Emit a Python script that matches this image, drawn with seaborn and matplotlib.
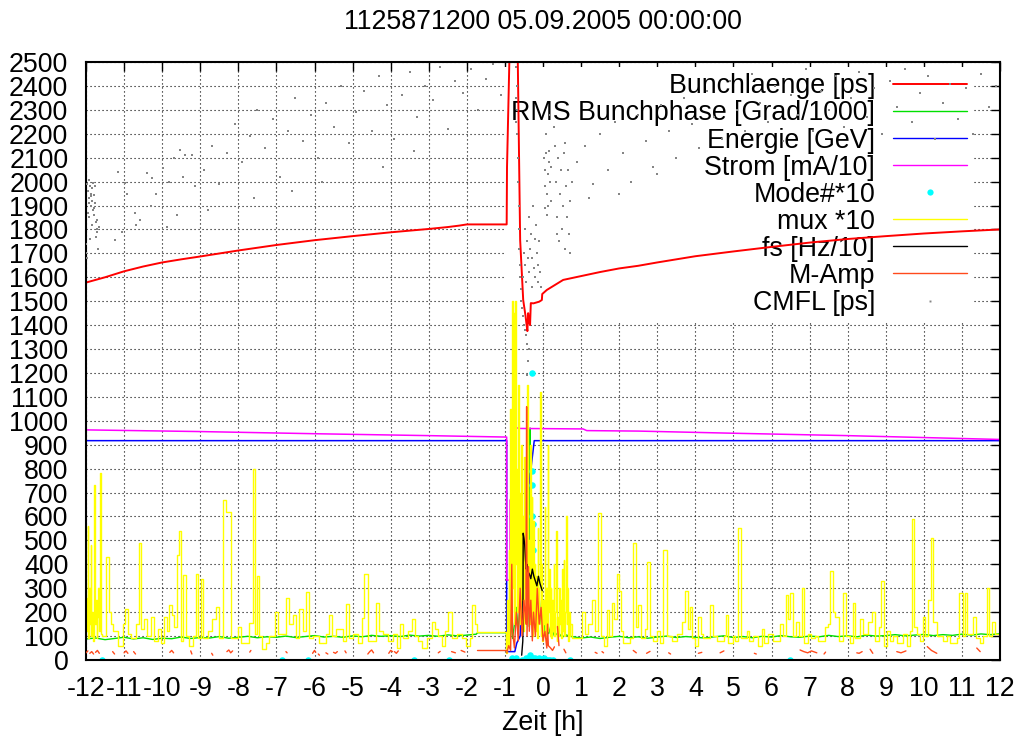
import numpy as np
import pandas as pd
import matplotlib
matplotlib.use("Agg")
import matplotlib.pyplot as plt
import seaborn as sns
from matplotlib.lines import Line2D

# ---------------- data (hours relative to 05.09.2005 00:00) ----------------
TITLE = "1125871200 05.09.2005 00:00:00"
XLABEL = "Zeit [h]"
LABELS = ["Bunchlaenge [ps]", "RMS Bunchphase [Grad/1000]", "Energie [GeV]",
          "Strom [mA/10]", "Mode#*10", "mux *10", "fs [Hz/10]", "M-Amp", "CMFL [ps]"]
x_ticks = list(range(-12, 13))
y_ticks = list(range(0, 2501, 100))

# Bunchlaenge [ps]
bl_t = [-12, -11.5, -11, -10.5, -10, -9.5, -9, -8, -7, -6, -5, -4, -3, -2.5, -2.2, -2.0, -0.954,
        -0.945, -0.87, -0.67, -0.60, -0.52, -0.46, -0.43, -0.41, -0.39, -0.37, -0.34, -0.32,
        -0.25, -0.10, -0.03, -0.02, 0.10, 0.53, 1.0, 1.5, 2.0, 2.5, 3, 4, 5, 6, 7, 8, 9, 10, 11, 12]
bl_v = [1578, 1600, 1625, 1645, 1662, 1675, 1687, 1712, 1735, 1755, 1772, 1788, 1802, 1810, 1816, 1821, 1821,
        2060, 2600, 2600, 1756, 1505, 1440, 1400, 1375, 1450, 1420, 1400, 1492,
        1491, 1498, 1505, 1530, 1547, 1589, 1605, 1622, 1637, 1648, 1662, 1688, 1708, 1727, 1745, 1760, 1772, 1783, 1792, 1800]

# RMS Bunchphase [Grad/1000]
rms_t = [-12, -11.75, -11.5, -11.25, -11, -10.75, -10.5, -10.25, -10, -9.75, -9.5, -9.25, -9, -8.75, -8.5,
         -8.25, -8, -7.75, -7.5, -7.25, -7, -6.75, -6.5, -6.25, -6, -5.75, -5.5, -5.25, -5, -4.75, -4.5,
         -4.25, -4, -3.75, -3.5, -3.25, -3, -2.75, -2.5, -2.25, -2, -1.75, -1.72, -0.96,
         -0.95, -0.9, -0.85, -0.8, -0.75, -0.7, -0.65, -0.6, -0.55, -0.5, -0.45, -0.40, -0.36, -0.34, -0.33,
         -0.3, -0.25, -0.2, -0.15, -0.1, -0.05, 0, 0.05, 0.1, 0.15, 0.2, 0.3, 0.4, 0.5, 0.6, 0.75,
         1, 1.25, 1.5, 1.75, 2, 2.25, 2.5, 2.75, 3, 3.25, 3.5, 3.75, 4, 4.25, 4.5, 4.75, 5, 5.25, 5.5,
         5.75, 6, 6.25, 6.5, 6.75, 7, 7.25, 7.5, 7.75, 8, 8.25, 8.5, 8.75, 9, 9.25, 9.5, 9.75, 10, 10.25,
         10.5, 10.75, 11, 11.25, 11.5, 11.75, 12]
rms_v = [88, 92, 85, 90, 95, 88, 93, 86, 91, 89, 96, 90, 94, 92, 98,
         91, 95, 99, 93, 97, 95, 100, 94, 98, 102, 96, 99, 95, 101, 97, 103,
         99, 102, 98, 104, 100, 103, 99, 105, 101, 104, 108, 114, 114,
         60, 120, 180, 90, 150, 220, 110, 250, 130, 200, 160, 300, 140, 970, 150,
         280, 180, 220, 130, 260, 150, 200, 120, 170, 110, 140, 100, 115, 95, 105, 98,
         92, 96, 90, 95, 99, 93, 97, 91, 96, 100, 94, 98, 95, 92, 97, 101, 94, 98, 93,
         99, 96, 102, 97, 95, 100, 97, 103, 98, 101, 97, 104, 100, 102, 106, 101, 104, 107, 102,
         106, 103, 108, 104, 109, 106, 110]

# Energie [GeV]
en_t = [-12, -0.954, -0.954, -0.74, -0.69, -0.60, -0.43, -0.385, -0.30, -0.23, 12]
en_v = [917, 917, 35, 35, 70, 100, 571, 711, 822, 917, 917]

# Strom [mA/10]
st_t = [-12, -9, -6, -3, -0.954, -0.954, -0.866, -0.866, -0.779, -0.779, -0.63, 1.05, 1.15, 2.5, 5, 8, 10, 12]
st_v = [962, 955, 946, 938, 932, 334, 334, 669, 669, 975, 968, 966, 959, 957, 948, 938, 930, 922]

# Mode#*10
mode_t = [-11.58, -6.85, -6.17, -3.39, -2.47, -0.82, -0.75, -0.70, -0.55, -0.45, -0.40, -0.36, -0.33,
          -0.30, -0.27, -0.24, -0.20, -0.15, -0.10, -0.05, 0.02, 0.08, 0.12, 0.19, 0.27, 0.71, 6.49,
          -0.30, -0.29, -0.28, -0.30, -0.27, -0.26]
mode_v = [0, 0, 0, 0, 0, 10, 0, 10, 0, 10, 0, 10, 20,
          0, 10, 0, 10, 0, 10, 0, 10, 0, 0, 0, 0, 0, 0,
          1200, 790, 730, 600, 570, 460]

# mux *10 (step signal)
mux_t = [-12.00, -11.98, -11.96, -11.94, -11.92, -11.90, -11.88, -11.86, -11.84, -11.82, -11.80, -11.78,
         -11.76, -11.74, -11.72, -11.70, -11.68, -11.66, -11.64, -11.62, -11.60,
         -11.58, -11.47, -11.40, -11.34, -11.30, -11.17, -11.04, -10.97, -10.91, -10.82, -10.69, -10.62,
         -10.56, -10.47, -10.40, -10.29, -10.21, -10.12, -10.03, -9.94, -9.87, -9.81, -9.74, -9.68, -9.62,
         -9.57, -9.51, -9.44, -9.37, -9.29, -9.20, -9.11, -9.05, -8.98, -8.92, -8.80, -8.69, -8.59, -8.52,
         -8.39, -8.32, -8.26, -8.19, -8.02, -7.93, -7.71, -7.62, -7.55, -7.52, -7.47, -7.38, -7.27, -7.19,
         -7.05, -6.97, -6.84, -6.75, -6.66, -6.57, -6.49, -6.40, -6.31, -6.22, -6.15, -6.05, -5.87, -5.70,
         -5.61, -5.54, -5.44, -5.26, -5.17, -5.10, -5.00, -4.87, -4.75, -4.69, -4.60, -4.39, -4.30, -4.21,
         -4.08, -3.93, -3.84, -3.75, -3.67, -3.54, -3.45, -3.36, -3.27, -3.19, -3.05, -2.92, -2.84, -2.75,
         -2.66, -2.57, -2.49, -2.40, -2.27, -2.14, -2.02, -1.92, -1.87, -1.79, -1.72, -0.97,
         -0.96, -0.94, -0.92, -0.90, -0.88, -0.86, -0.84, -0.82, -0.80, -0.78, -0.76, -0.74, -0.72, -0.70,
         -0.68, -0.66, -0.64, -0.62, -0.60, -0.58, -0.56, -0.54, -0.52, -0.50, -0.48, -0.46, -0.44, -0.42,
         -0.40, -0.38, -0.36, -0.34, -0.32, -0.30, -0.28, -0.26, -0.24, -0.22, -0.20, -0.18, -0.16, -0.14,
         -0.12, -0.10, -0.08, -0.06, -0.04, -0.02, 0.00, 0.02, 0.04, 0.06, 0.08, 0.10, 0.12, 0.14, 0.16,
         0.18, 0.20, 0.22, 0.24, 0.26, 0.28, 0.30, 0.32, 0.34, 0.36, 0.38, 0.40, 0.42, 0.44, 0.46, 0.48,
         0.50, 0.52, 0.54, 0.56, 0.58, 0.60, 0.62, 0.64, 0.66, 0.68, 0.70, 0.72,
         0.75, 1.02, 1.10, 1.19, 1.28, 1.37, 1.45, 1.52, 1.59, 1.67, 1.74, 1.80, 1.87, 1.95, 2.00, 2.04,
         2.11, 2.28, 2.37, 2.44, 2.50, 2.57, 2.68, 2.74, 2.81, 2.90, 2.99, 3.07, 3.16, 3.25, 3.38, 3.51,
         3.64, 3.73, 3.82, 3.86, 3.90, 3.99, 4.08, 4.14, 4.21, 4.39, 4.46, 4.56, 4.74, 4.81, 4.87, 4.98,
         5.04, 5.13, 5.19, 5.35, 5.42, 5.52, 5.65, 5.74, 5.80, 5.92, 6.05, 6.22, 6.29, 6.38, 6.44, 6.49,
         6.56, 6.64, 6.73, 6.79, 6.85, 6.97, 7.05, 7.14, 7.23, 7.40, 7.49, 7.54, 7.61, 7.67, 7.76, 7.89,
         7.96, 8.06, 8.13, 8.19, 8.32, 8.41, 8.54, 8.63, 8.72, 8.81, 8.87, 8.95, 9.02, 9.11, 9.20, 9.29,
         9.46, 9.55, 9.64, 9.68, 9.74, 9.81, 9.90, 9.97, 10.03, 10.12, 10.18, 10.25, 10.35, 10.51, 10.60,
         10.69, 10.86, 10.93, 11.02, 11.09, 11.14, 11.28, 11.37, 11.48, 11.55, 11.65, 11.71, 11.78, 11.87, 12.0]
mux_v = [260, 120, 560, 90, 300, 150, 480, 100, 200, 80, 400, 730,
         150, 250, 90, 180, 300, 120, 200, 780, 110,
         100, 430, 200, 150, 120, 60, 150, 215, 110, 90, 150, 490,
         130, 170, 100, 180, 80, 130, 70, 180, 120, 230, 190, 140, 440,
         540, 80, 355, 100, 60, 100, 360, 90, 340, 90, 120, 170, 220, 90,
         670, 620, 620, 90, 140, 70, 155, 800, 110, 350, 100, 45, 70, 100,
         200, 110, 110, 260, 150, 190, 90, 215, 120, 285, 90, 100, 70, 110,
         190, 100, 130, 80, 235, 90, 110, 70, 175, 360, 80, 240, 120, 110,
         80, 110, 50, 150, 90, 120, 170, 100, 80, 50, 90, 160, 130, 100,
         60, 120, 200, 90, 110, 90, 60, 90, 230, 150, 118, 30,
         30, 250, 60, 460, 100, 1050, 200, 1500, 300, 1450, 150, 1500, 400, 800,
         200, 1150, 300, 700, 150, 900, 250, 600, 120, 850, 300, 650, 180, 1150,
         250, 500, 150, 900, 200, 680, 100, 580, 150, 400, 120, 350, 90, 550,
         150, 300, 1120, 100, 400, 80, 250, 150, 640, 100, 300, 120, 900, 200, 380,
         100, 300, 90, 250, 120, 400, 100, 200, 540, 80, 180, 100, 300, 150, 250, 90,
         380, 120, 420, 100, 200, 600, 150, 300, 80, 200, 100, 150,
         90, 200, 110, 150, 250, 120, 615, 100, 60, 210, 100, 240, 170, 360, 290, 120,
         70, 90, 490, 140, 230, 90, 130, 410, 100, 80, 120, 70, 460, 100, 80, 110,
         160, 290, 130, 220, 90, 60, 180, 110, 90, 230, 100, 80, 100, 190, 70, 100,
         80, 550, 90, 120, 80, 100, 60, 130, 70, 110, 80, 150, 100, 270, 170, 280,
         100, 160, 100, 300, 70, 110, 90, 100, 80, 140, 150, 370, 200, 180, 80, 280,
         100, 70, 240, 90, 170, 110, 160, 200, 80, 140, 330, 60, 120, 80, 100, 70,
         110, 60, 120, 590, 140, 110, 80, 180, 100, 250, 510, 160, 100, 80, 100,
         70, 90, 280, 100, 280, 110, 180, 90, 70, 100, 300, 100, 160, 110, 110]

# fs [Hz/10] (only around the beam loss)
fs_t = [-0.56, -0.53, -0.52, -0.50, -0.48, -0.46, -0.44, -0.42, -0.40, -0.36, -0.32, -0.28, -0.24,
        -0.20, -0.16, -0.12, -0.08, -0.04, -0.02]
fs_v = [20, 80, 530, 510, 480, 420, 380, 400, 370, 360, 340, 380, 350, 330, 310, 350, 320, 300, 290]

# M-Amp: short fragments (gaps between them)
ma_frag_t = [
    [-12.0, -11.95], [-11.9, -11.85, -11.8], [-11.75, -11.7, -11.65], [-11.3, -11.25],
    [-11.0, -10.95, -10.9], [-10.75, -10.7], [-9.8, -9.75, -9.7], [-9.25, -9.22], [-8.7, -8.67],
    [-8.3, -8.25, -8.2, -8.15], [-7.7, -7.67], [-6.75, -6.72], [-6.05, -6.0, -5.97], [-5.9, -5.87],
    [-5.7, -5.65], [-5.5, -5.45, -5.4], [-5.2, -5.17], [-4.6, -4.55, -4.5, -4.45], [-4.05, -4.0, -3.95],
    [-3.9, -3.85, -3.8], [-2.75, -2.7], [-2.4, -2.3], [-2.15, -2.05], [-1.72, -0.96],
    [-0.95, -0.9, -0.85, -0.82, -0.8, -0.75, -0.7, -0.65, -0.6, -0.55, -0.5, -0.45, -0.43, -0.42,
     -0.38, -0.36, -0.32, -0.28, -0.25, -0.2, -0.15, -0.1, -0.05, 0.0, 0.05, 0.1, 0.12, 0.14,
     0.2, 0.25, 0.3],
    [0.38, 0.42], [0.55, 0.6], [1.37, 1.42], [1.55, 1.59], [2.37, 2.45], [2.72, 2.81], [3.3, 3.35],
    [4.08, 4.17], [4.65, 4.75], [5.55, 5.6], [6.75, 6.85, 6.95, 7.05, 7.19], [7.38, 7.42],
    [8.24, 8.3, 8.38], [8.59, 8.66], [9.29, 9.4, 9.53], [10.09, 10.2, 10.34], [11.39, 11.48]]
ma_frag_v = [
    [30, 38], [28, 35, 25], [32, 40, 28], [35, 25],
    [30, 38, 28], [35, 25], [32, 40, 30], [38, 25], [28, 20],
    [35, 42, 30, 38], [33, 40], [35, 30], [28, 40, 32], [25, 20],
    [30, 25], [32, 28, 35], [38, 30], [25, 35, 42, 30], [28, 40, 35],
    [35, 28, 38], [30, 36], [35, 30], [40, 33], [40, 40],
    [30, 60, 40, 400, 120, 50, 200, 80, 300, 100, 250, 150, 1059, 100,
     390, 120, 250, 80, 200, 100, 300, 150, 220, 80, 120, 50, 150, 60,
     50, 40, 55],
    [140, 60], [45, 30], [32, 28], [35, 30], [40, 30], [28, 36], [30, 25],
    [28, 32], [30, 38], [28, 25], [42, 35, 30, 38, 30], [25, 33],
    [30, 28, 35], [45, 28], [35, 30, 38], [56, 40, 28], [50, 35]]

# CMFL [ps] (scattered measurements)
cm_t = [-11.97, -11.95, -11.93, -11.92, -11.90, -11.88, -11.86, -11.85, -11.83, -11.81, -11.80, -11.78,
        -11.76, -11.74, -11.72, -11.70, -11.95, -11.91, -11.87, -11.84, -11.79, -11.75, -11.71, -11.68,
        -11.66, -11.93, -11.89, -11.82, -11.77, -11.99, -11.99, -11.98,
        -11.16, -10.98, -10.92, -11.24, -11.05, -10.71, -10.68, -10.58, -10.40, -10.27, -10.15, -9.97,
        -9.81, -9.88, -9.69, -9.53, -9.40, -9.45, -9.21, -9.13,
        -8.9, -8.7, -8.5, -8.3, -8.1, -7.9, -7.7, -7.5, -7.3, -7.1, -6.9, -6.7, -6.5, -6.3, -6.1, -5.9,
        -5.7, -5.5, -5.3, -5.1, -4.9, -4.7, -4.5, -4.3, -4.1, -3.9, -3.7, -3.5, -3.3, -3.1, -2.9, -2.7,
        -2.5, -2.3, -2.1, -1.9, -1.7, -1.5, -1.3, -1.1, -8.8, -7.6, -6.6, -5.8, -10.3, -9.6, -4.2, -3.4,
        -0.70, -0.69, -0.68, -0.67, -0.66, -0.65, -0.64, -0.63, -0.62, -0.61, -0.60, -0.58, -0.57, -0.55,
        -0.53, -0.50, -0.47, -0.45, -0.72, -0.71,
        -0.52, -0.50, -0.48, -0.46, -0.44, -0.42, -0.40, -0.38, -0.36, -0.34, -0.32, -0.30, -0.28, -0.26,
        -0.24, -0.22, -0.20, -0.18, -0.16, -0.14, -0.12, -0.10, -0.08, -0.06,
        0.02, 0.04, 0.06, 0.08, 0.10, 0.12, 0.14, 0.16, 0.18, 0.20, 0.22, 0.05, 0.15, 0.11,
        0.32, 0.35, 0.38, 0.40, 0.42, 0.45, 0.48, 0.50, 0.52, 0.55, 0.58, 0.60, 0.62, 0.65, 0.68, 0.70,
        0.72, 0.75, 0.36, 0.57, -0.42, -0.40, -0.41, -0.38, 0.08, 0.18, 0.30,
        0.9, 1.1, 1.3, 1.5, 1.7, 1.9, 2.1, 2.3, 2.5, 2.7, 2.9, 3.1, 3.3, 3.5, 3.7, 3.9, 4.1, 4.3, 4.5,
        4.7, 4.9, 5.1, 5.3, 5.5, 5.7, 5.9, 6.1, 6.3, 6.5, 6.7, 6.9, 7.1, 7.3, 7.5, 7.7, 7.9, 8.1, 8.3,
        8.5, 8.7, 8.9, 9.1, 9.3, 9.5, 9.7, 9.9, 10.1, 10.3, 10.5, 10.7, 10.9, 11.1, 11.3, 11.5, 11.7,
        11.9, 2.0, 3.0, 1.2]
cm_v = [1990, 1960, 2005, 1930, 1980, 1950, 1900, 1975, 1920, 1880, 1945, 1860,
        1910, 1830, 1790, 1800, 1870, 1850, 1940, 1820, 1890, 1770, 1840, 1720,
        1810, 1910, 1760, 1995, 1980, 1700, 1740, 1680,
        2040, 1994, 1948, 1756, 1789, 1869, 1820, 1840, 2036, 2015, 1950, 2057,
        2000, 1810, 2099, 2132, 2110, 2020, 2110, 1980,
        2050, 2150, 1990, 2120, 2240, 2080, 2190, 2300, 2140, 2260, 2020, 2210, 2350, 2170, 2280, 2100,
        2330, 2230, 2400, 2160, 2290, 2380, 2210, 2440, 2320, 2180, 2360, 2460, 2270, 2400, 2340, 2480,
        2220, 2420, 2370, 2470, 2300, 2430, 2490, 2360, 1880, 1930, 1960, 2000, 1900, 1860, 2060, 2130,
        2480, 2400, 2300, 2200, 2100, 2000, 1900, 1800, 1720, 1650, 1600, 1550, 1500, 1470,
        1440, 1400, 1380, 1360, 2350, 2250,
        1600, 1700, 1650, 1800, 1580, 1750, 1680, 1850, 1620, 1720, 1780, 1560, 1680, 1900,
        1640, 1760, 1600, 1820, 1700, 1580, 1650, 1750, 1620, 1560,
        2100, 2050, 1980, 2120, 1950, 2030, 1900, 2080, 2000, 1920, 2060, 1890, 2130, 1860,
        2150, 2000, 1850, 2100, 1750, 1950, 2050, 1800, 1900, 2120, 1720, 1980, 1850, 2050, 1780, 1920,
        1700, 2000, 1780, 2160, 1320, 1250, 1190, 1300, 2200, 2280, 2230,
        2080, 2150, 1990, 2200, 2050, 2250, 2120, 2000, 2280, 2170, 2060, 2320, 2210, 2100, 2350, 2240,
        2140, 2380, 2270, 2180, 2420, 2300, 2210, 2450, 2330, 2250, 2400, 2170, 2360, 2280, 2470, 2210,
        2380, 2300, 2440, 2230, 2350, 2460, 2270, 2390, 2200, 2420, 2310, 2470, 2250, 2370, 2440, 2180,
        2330, 2410, 2260, 2390, 2200, 2450, 2310, 2400, 1950, 2030, 1930]

# ---------------- style ----------------
COLORS = ["#ff0000", "#00e000", "#0000ff", "#ff00ff", "#00ffff", "#ffff00", "#000000", "#ff4a1c", "#858585"]

sns.set_theme(style="white", rc={"text.color": "black", "axes.labelcolor": "black",
                                 "xtick.color": "black", "ytick.color": "black",
                                 "axes.edgecolor": "black"})
plt.rcParams['font.family'] = ['Liberation Sans', 'DejaVu Sans']
FS = 19.3

fig = plt.figure(figsize=(10.23, 7.47), dpi=100)
ax = fig.add_axes([86 / 1023, 87 / 747, 914 / 1023, 598 / 747])


def draw_line(t, v, color, lw, z, steps=False, units=None):
    df = pd.DataFrame({"t": t, "v": v})
    kw = {}
    if steps:
        kw["drawstyle"] = "steps-post"
    if units is not None:
        df["u"] = units
        kw["units"] = "u"
    sns.lineplot(data=df, x="t", y="v", color=color, linewidth=lw, estimator=None, sort=False,
                 ax=ax, legend=False, zorder=z, **kw)


ma_t = [t for frag in ma_frag_t for t in frag]
ma_v = [v for frag in ma_frag_v for v in frag]
ma_seg = [i for i, frag in enumerate(ma_frag_t) for _ in frag]

draw_line(bl_t, bl_v, COLORS[0], 1.4, 2.0)
draw_line(rms_t, rms_v, COLORS[1], 1.0, 2.1)
draw_line(en_t, en_v, COLORS[2], 1.1, 2.2)
draw_line(st_t, st_v, COLORS[3], 1.1, 2.3)
sns.scatterplot(x=mode_t, y=mode_v, color=COLORS[4], s=22, linewidth=0, ax=ax, zorder=2.4, legend=False)
draw_line(mux_t, mux_v, COLORS[5], 1.0, 2.5, steps=True)
draw_line(fs_t, fs_v, COLORS[6], 1.0, 2.6)
draw_line(ma_t, ma_v, COLORS[7], 1.0, 2.7, units=ma_seg)
sns.scatterplot(x=cm_t, y=cm_v, color=COLORS[8], s=3, marker="s", linewidth=0, ax=ax, zorder=2.8,
                legend=False)

ax.set_xlim(-12, 12)
ax.set_ylim(0, 2500)
ax.set_xticks(x_ticks)
ax.set_yticks(y_ticks)
ax.set_xticklabels([str(v) for v in x_ticks])
ax.set_yticklabels([str(v) for v in y_ticks])
ax.tick_params(axis="both", which="major", direction="in", length=6.5, width=1.0,
               top=True, right=True, labelsize=FS, colors="black")
ax.tick_params(axis="x", pad=11.5)
ax.tick_params(axis="y", pad=12.7)
ax.set_axisbelow(True)
ax.grid(True, color="black", linestyle=(0, (1, 2.6)), linewidth=0.8)
for sp in ax.spines.values():
    sp.set_linewidth(1.5)
    sp.set_color("black")
    sp.set_visible(True)

ax.set_xlabel(XLABEL, fontsize=FS, labelpad=5.5)
ax.set_ylabel("")
ax.set_title(TITLE, fontsize=FS, pad=23.5)

handles = [
    Line2D([], [], color=COLORS[0], lw=1.4),
    Line2D([], [], color=COLORS[1], lw=1.0),
    Line2D([], [], color=COLORS[2], lw=1.0),
    Line2D([], [], color=COLORS[3], lw=1.0),
    Line2D([], [], color=COLORS[4], lw=0, marker="o", markersize=4.5, markeredgewidth=0),
    Line2D([], [], color=COLORS[5], lw=1.0),
    Line2D([], [], color=COLORS[6], lw=1.0),
    Line2D([], [], color=COLORS[7], lw=1.0),
    Line2D([], [], color=COLORS[8], lw=0, marker="s", markersize=1.4, markeredgewidth=0),
]
leg = ax.legend(handles, LABELS, loc="upper right", bbox_to_anchor=(0.9712, 0.9922), borderaxespad=0,
                fontsize=FS, markerfirst=False, handlelength=2.76, handletextpad=0.67,
                labelspacing=0.04, borderpad=0.25, frameon=True, fancybox=False,
                facecolor="white", edgecolor="none", framealpha=1.0, numpoints=1)
leg.set_zorder(1.0)

fig.savefig("out.png", dpi=100)
